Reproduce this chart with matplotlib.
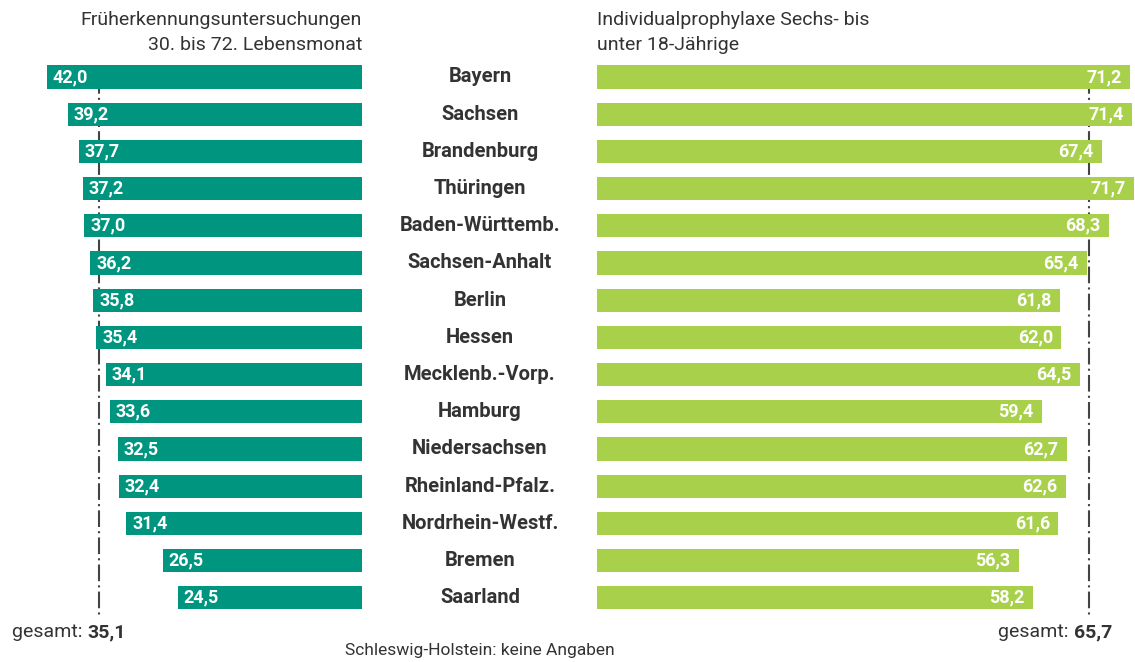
import matplotlib.pyplot as plt
from matplotlib.transforms import blended_transform_factory

plt.rcParams['font.family'] = ['Roboto', 'DejaVu Sans']

states = ["Bayern", "Sachsen", "Brandenburg", "Thüringen", "Baden-Württemb.",
          "Sachsen-Anhalt", "Berlin", "Hessen", "Mecklenb.-Vorp.", "Hamburg",
          "Niedersachsen", "Rheinland-Pfalz.", "Nordrhein-Westf.", "Bremen", "Saarland"]
frueh = [42.0, 39.2, 37.7, 37.2, 37.0, 36.2, 35.8, 35.4, 34.1, 33.6, 32.5, 32.4, 31.4, 26.5, 24.5]
prophy = [71.2, 71.4, 67.4, 71.7, 68.3, 65.4, 61.8, 62.0, 64.5, 59.4, 62.7, 62.6, 61.6, 56.3, 58.2]
frueh_total = 35.1
prophy_total = 65.7

teal = "#00957f"
green = "#a8d04a"
txt = "#333333"

W, H = 1135, 662
fig = plt.figure(figsize=(W / 100, H / 100), dpi=100)

# axes placed in pixel layout: top 40, bottom 640
top, bot = 40, 640
row = 37.2
y0 = -(77 - top) / row
y1 = y0 + (bot - top) / row
ax_l = fig.add_axes([0, 1 - bot / H, 362 / W, (bot - top) / H])
ax_r = fig.add_axes([597 / W, 1 - bot / H, (W - 597) / W, (bot - top) / H])

ypos = list(range(len(states)))

ax_l.barh(ypos, frueh, height=0.62, color=teal, zorder=2)
ax_l.set_xlim(362 / 7.5, 0)
ax_r.barh(ypos, prophy, height=0.62, color=green, zorder=2)
ax_r.set_xlim(0, (W - 597) / 7.49)

for ax in (ax_l, ax_r):
    ax.set_ylim(y1, y0)
    ax.axis("off")

ax_l.plot([frueh_total, frueh_total], [0, 14.5], color="#444444", lw=1.5,
          ls=(0, (8, 2, 1, 2)), zorder=1)
ax_r.plot([prophy_total, prophy_total], [0, 14.5], color="#444444", lw=1.5,
          ls=(0, (8, 2, 1, 2)), zorder=1)

for y, v in zip(ypos, frueh):
    ax_l.annotate(f"{v:.1f}".replace(".", ","), (v, y), xytext=(4, 0),
                  textcoords="offset points", ha="left", va="center",
                  color="white", fontsize=13, fontweight="bold", zorder=3)
for y, v in zip(ypos, prophy):
    ax_r.annotate(f"{v:.1f}".replace(".", ","), (v, y), xytext=(-6, 0),
                  textcoords="offset points", ha="right", va="center",
                  color="white", fontsize=13, fontweight="bold", zorder=3)

tr = blended_transform_factory(fig.transFigure, ax_l.transData)
for y, s in zip(ypos, states):
    ax_l.text(480 / W, y, s, transform=tr, ha="center", va="center",
              fontsize=14.5, fontweight="bold", color=txt, clip_on=False)

fig.text(362 / W, 1 - 20 / H, "Früherkennungsuntersuchungen", ha="right", va="center",
         fontsize=14, color=txt)
fig.text(362 / W, 1 - 45 / H, "30. bis 72. Lebensmonat", ha="right", va="center",
         fontsize=14, color=txt)
fig.text(597 / W, 1 - 20 / H, "Individualprophylaxe Sechs- bis", ha="left", va="center",
         fontsize=14, color=txt)
fig.text(597 / W, 1 - 45 / H, "unter 18-Jährige", ha="left", va="center",
         fontsize=14, color=txt)

t1 = fig.text(12 / W, 1 - 632 / H, "gesamt: ", ha="left", va="center", fontsize=14, color=txt)
ax_l.annotate("35,1", xy=(1, 0.5), xycoords=t1, ha="left", va="center",
              fontsize=14, fontweight="bold", color=txt)

t2 = fig.text(1112 / W, 1 - 632 / H, "65,7", ha="right", va="center", fontsize=14,
              fontweight="bold", color=txt)
ax_r.annotate("gesamt: ", xy=(0, 0.5), xycoords=t2, ha="right", va="center",
              fontsize=14, color=txt)

fig.text(480 / W, 1 - 650 / H, "Schleswig-Holstein: keine Angaben", ha="center",
         va="center", fontsize=12.5, color=txt)

fig.savefig("out.png", dpi=100)
